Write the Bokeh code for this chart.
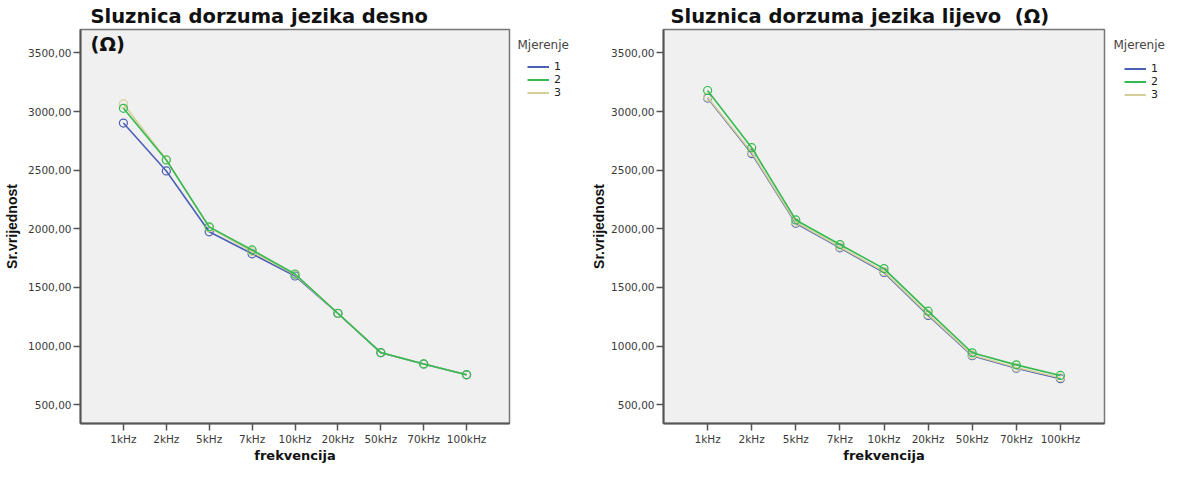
from bokeh.plotting import figure
from bokeh.layouts import row
from bokeh.models import Range1d, FixedTicker, Legend, LegendItem, Label
from bokeh.embed import file_html
from bokeh.resources import INLINE

# ---------------- data ----------------
categories = ["1kHz", "2kHz", "5kHz", "7kHz", "10kHz", "20kHz", "50kHz", "70kHz", "100kHz"]
series_names = ["1", "2", "3"]
legend_title = "Mjerenje"

desno_1 = [2902, 2494, 1975, 1787, 1598, 1278, 944, 847, 755]
desno_2 = [3028, 2587, 2017, 1820, 1615, 1280, 945, 848, 756]
desno_3 = [3065, 2590, 2010, 1805, 1610, 1279, 945, 848, 756]

lijevo_1 = [3115, 2642, 2048, 1838, 1628, 1261, 918, 811, 722]
lijevo_2 = [3180, 2692, 2076, 1866, 1661, 1298, 943, 840, 750]
lijevo_3 = [3123, 2652, 2056, 1845, 1636, 1270, 925, 818, 730]

y_ticks = [500, 1000, 1500, 2000, 2500, 3000, 3500]
y_tick_labels = ["500,00", "1000,00", "1500,00", "2000,00", "2500,00", "3000,00", "3500,00"]

colors = ["#4b60b6", "#35ba50", "#d5cf9a"]
draw_order = [0, 2, 1]

TICK_FONT = "DejaVu Sans"
TITLE_FONT = "DejaVu Sans"
VLABEL_FONT = "Liberation Sans"
HEIGHT = 465


def make_chart(title, series, width, b_left, b_top, b_bottom,
               title_offset, ylabel_standoff, extra_label=None):
    x = list(range(1, len(categories) + 1))
    p = figure(width=width, height=HEIGHT, output_backend="svg", toolbar_location=None,
               x_range=Range1d(0, len(categories) + 1), y_range=Range1d(340, 3700),
               min_border_left=b_left, min_border_right=2,
               min_border_top=b_top, min_border_bottom=b_bottom)
    p.background_fill_color = "#f0f0f0"
    p.border_fill_color = "white"
    p.outline_line_color = "#777777"
    p.outline_line_width = 1.5
    p.xgrid.visible = False
    p.ygrid.visible = False

    p.title.text = title
    p.title.text_font = TITLE_FONT
    p.title.text_font_size = "19.5px"
    p.title.text_font_style = "bold"
    p.title.text_color = "#111111"
    p.title.align = "left"
    p.title.offset = title_offset
    p.title.standoff = 3

    p.xaxis.ticker = FixedTicker(ticks=x)
    p.xaxis.major_label_overrides = {xi: c for xi, c in zip(x, categories)}
    p.yaxis.ticker = FixedTicker(ticks=y_ticks)
    p.yaxis.major_label_overrides = {v: s for v, s in zip(y_ticks, y_tick_labels)}
    for ax in (p.xaxis[0], p.yaxis[0]):
        ax.axis_line_color = "#555555"
        ax.axis_line_width = 2
        ax.major_tick_line_color = "#555555"
        ax.major_tick_line_width = 1.5
        ax.major_tick_out = 7
        ax.major_tick_in = 0
        ax.minor_tick_line_color = None
        ax.major_label_text_font = TICK_FONT
        ax.major_label_text_font_size = "10.5px"
        ax.major_label_text_color = "#3a3a3a"
        ax.axis_label_text_font_style = "bold"
        ax.axis_label_text_color = "#111111"
    p.xaxis.major_label_standoff = 2
    p.yaxis.major_label_standoff = 2
    p.xaxis.axis_label = "frekvencija"
    p.xaxis.axis_label_text_font = TITLE_FONT
    p.xaxis.axis_label_text_font_size = "13px"
    p.xaxis.axis_label_standoff = 0
    p.yaxis.axis_label = "Sr.vrijednost"
    p.yaxis.axis_label_text_font = VLABEL_FONT
    p.yaxis.axis_label_text_font_size = "14px"
    p.yaxis.axis_label_standoff = ylabel_standoff

    for i in draw_order:
        ys = series[i]
        p.line(x, ys, line_color=colors[i], line_width=1.6)
        p.scatter(x, ys, marker="circle", size=8, fill_color=None,
                  line_color=colors[i], line_width=1.2)

    if extra_label is not None:
        p.add_layout(Label(x=extra_label[0], y=extra_label[1], text=extra_label[2],
                           text_font=TITLE_FONT, text_font_size="19.5px", text_font_style="bold",
                           text_color="#111111", text_baseline="top", text_align="left"))
    return p


def make_legend_panel(series, width, b_top, b_bottom, title_x, title_y_from_top, leg_x, leg_top):
    """Narrow figure to the right of a chart that only holds the legend.
    Its frame matches the neighbouring chart's frame vertically; coordinates are pixels."""
    x = list(range(1, len(categories) + 1))
    frame_h = HEIGHT - b_top - b_bottom
    p = figure(width=width, height=HEIGHT, output_backend="svg", toolbar_location=None,
               x_range=Range1d(0, width), y_range=Range1d(0, frame_h),
               x_axis_location=None, y_axis_location=None,
               min_border_left=0, min_border_right=0,
               min_border_top=b_top, min_border_bottom=b_bottom)
    p.outline_line_color = None
    p.background_fill_color = "white"
    p.border_fill_color = "white"
    p.xgrid.visible = False
    p.ygrid.visible = False
    items = []
    for i, ys in enumerate(series):
        ln = p.line(x, ys, line_color=colors[i], line_width=2, visible=False)
        items.append(LegendItem(label=series_names[i], renderers=[ln]))
    item_h = 13
    legend = Legend(items=items,
                    location=(leg_x, frame_h - (leg_top - b_top) - item_h * len(items)),
                    orientation="vertical",
                    background_fill_alpha=0, border_line_color=None,
                    inactive_fill_alpha=0,
                    padding=0, margin=0, spacing=0,
                    glyph_width=22, glyph_height=item_h, label_standoff=5,
                    label_text_font=TICK_FONT, label_text_font_size="11px",
                    label_text_color="#222222", label_height=item_h)
    p.add_layout(legend, "center")
    p.add_layout(Label(x=title_x, y=frame_h - (title_y_from_top - b_top), text=legend_title,
                       text_font=TICK_FONT, text_font_size="12px", text_color="#444444",
                       text_baseline="middle", text_align="left"))
    return p


left = make_chart("Sluznica dorzuma jezika desno", [desno_1, desno_2, desno_3],
                  width=511, b_left=80, b_top=27, b_bottom=40,
                  title_offset=10, ylabel_standoff=5,
                  extra_label=(0.233, 3672, "(\u03a9)"))
left_leg = make_legend_panel([desno_1, desno_2, desno_3], width=77, b_top=27, b_bottom=40,
                             title_x=6, title_y_from_top=42.3, leg_x=16, leg_top=61.8)
right = make_chart("Sluznica dorzuma jezika lijevo\u00a0 (\u03a9)", [lijevo_1, lijevo_2, lijevo_3],
                   width=518, b_left=72, b_top=29, b_bottom=41,
                   title_offset=7, ylabel_standoff=1)
right_leg = make_legend_panel([lijevo_1, lijevo_2, lijevo_3], width=62, b_top=29, b_bottom=41,
                              title_x=7, title_y_from_top=44.7, leg_x=18, leg_top=62.5)

layout = row(left, left_leg, right, right_leg)
open("out.html", "w").write(file_html(layout, INLINE))
